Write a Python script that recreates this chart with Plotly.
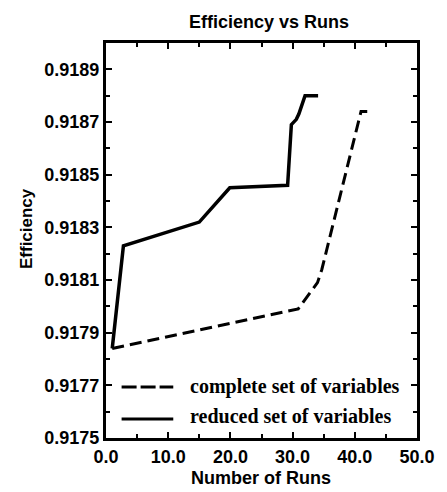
import plotly.graph_objects as go

# Data
reduced_runs = [1.0, 2.8, 15.0, 19.9, 29.2, 29.8, 30.6, 31.0, 32.0, 34.1]
reduced_eff = [0.91784, 0.91823, 0.91832, 0.91845, 0.91846, 0.91869, 0.91871, 0.91873, 0.91880, 0.91880]

complete_runs = [1.0, 30.9, 34.0, 34.7, 41.0, 42.0]
complete_eff = [0.91784, 0.91799, 0.91809, 0.91814, 0.91874, 0.91874]

legend_labels = ["complete set of variables", "reduced set of variables"]

W, H = 447, 492
L, R, T, B = 106, 22, 43, 54

fig = go.Figure()
fig.add_trace(go.Scatter(x=complete_runs, y=complete_eff, mode="lines",
                         line=dict(color="black", width=3, dash="12px,6px"),
                         showlegend=False, name=legend_labels[0]))
fig.add_trace(go.Scatter(x=reduced_runs, y=reduced_eff, mode="lines",
                         line=dict(color="black", width=3.5),
                         showlegend=False, name=legend_labels[1]))

pw, ph = W - L - R, H - T - B
def px(x):
    return (x - L) / pw
def py(y):
    return (H - B - y) / ph

shapes = [
    dict(type="line", xref="paper", yref="paper", x0=px(122), x1=px(175), y0=py(387), y1=py(387),
         line=dict(color="black", width=3, dash="15px,4px")),
    dict(type="line", xref="paper", yref="paper", x0=px(122), x1=px(175), y0=py(419), y1=py(419),
         line=dict(color="black", width=3)),
]

annotations = [
    dict(text="Efficiency vs Runs", xref="paper", yref="paper", x=px(273), y=py(22),
         xanchor="center", yanchor="middle", showarrow=False,
         font=dict(family="Liberation Sans, Arial", size=18, color="black", weight="bold")),
    dict(text="Number of Runs", xref="paper", yref="paper", x=px(265), y=py(478),
         xanchor="center", yanchor="middle", showarrow=False,
         font=dict(family="Liberation Sans, Arial", size=18, color="black", weight="bold")),
    dict(text="Efficiency", xref="paper", yref="paper", x=px(25), y=py(229),
         xanchor="center", yanchor="middle", showarrow=False, textangle=-90,
         font=dict(family="Liberation Sans, Arial", size=17, color="black", weight="bold")),
    dict(text=legend_labels[0], xref="paper", yref="paper", x=px(190), y=py(386),
         xanchor="left", yanchor="middle", showarrow=False,
         font=dict(family="Liberation Serif, Times New Roman", size=20, color="black", weight="bold")),
    dict(text=legend_labels[1], xref="paper", yref="paper", x=px(190), y=py(416),
         xanchor="left", yanchor="middle", showarrow=False,
         font=dict(family="Liberation Serif, Times New Roman", size=20, color="black", weight="bold")),
]

tickfont = dict(family="Liberation Sans, Arial", size=18, color="black", weight="bold")

fig.update_layout(
    width=W, height=H,
    margin=dict(l=L, r=R, t=T, b=B, pad=0),
    paper_bgcolor="white", plot_bgcolor="white",
    shapes=shapes, annotations=annotations,
    xaxis=dict(range=[0, 50], tick0=0, dtick=10, tickformat=".1f",
               showgrid=False, zeroline=False,
               showline=True, linecolor="black", linewidth=3, mirror="allticks",
               ticks="inside", ticklen=6, tickwidth=2, tickcolor="black",
               minor=dict(dtick=5, ticks="inside", ticklen=4, tickwidth=2, tickcolor="black", showgrid=False),
               tickfont=tickfont),
    yaxis=dict(range=[0.9175, 0.9190], tick0=0.9175, dtick=0.0002, tickformat=".4f",
               showgrid=False, zeroline=False,
               showline=True, linecolor="black", linewidth=3, mirror="allticks",
               ticks="inside", ticklen=6, tickwidth=2, tickcolor="black",
               minor=dict(dtick=0.0001, ticks="inside", ticklen=4, tickwidth=2, tickcolor="black", showgrid=False),
               tickfont=tickfont),
)

fig.write_html("out.html",
               config={"displayModeBar": False},
               post_script="document.body.style.margin='0';document.body.style.padding='0';document.body.style.overflow='hidden';")
